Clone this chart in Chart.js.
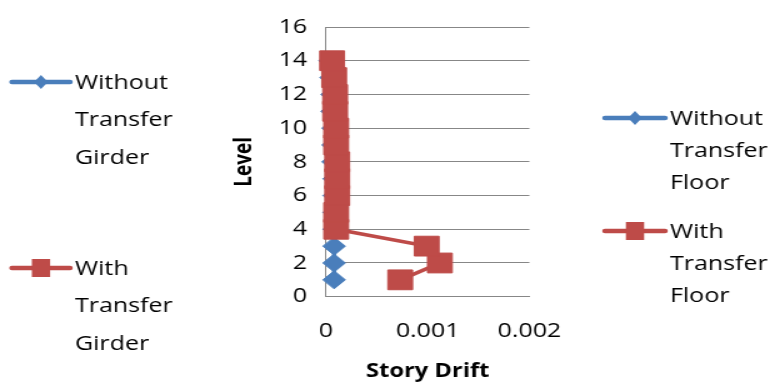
<!DOCTYPE html>
<html>
<head>
<meta charset="utf-8">
<script src="https://cdn.jsdelivr.net/npm/chart.js@4/dist/chart.umd.min.js"></script>
<style>
  html, body { margin: 0; padding: 0; background: #fff; overflow: hidden; }
  #chart { display: block; }
</style>
</head>
<body>
<canvas id="chart" width="616" height="383" style="width:770px;height:383px"></canvas>
<script>
// Story drift per level, for the building with and without the transfer element
const levels = [1, 2, 3, 4, 5, 6, 7, 8, 9, 10, 11, 12, 13, 14];
const driftWithout = [0.00008, 0.00008, 0.00008, 0.00008, 0.00008, 0.00008, 0.00008,
                      0.00007, 0.00007, 0.00007, 0.00006, 0.00006, 0.00005, 0.00004];
const driftWith = [0.00073, 0.00112, 0.00099, 0.00010, 0.00010, 0.00011, 0.00011,
                   0.00011, 0.00010, 0.00010, 0.00009, 0.00009, 0.00008, 0.00006];

const xTickLabels = ['0', '0.001', '0.002'];
const legendGirder = ['Without Transfer Girder', 'With Transfer Girder'];
const legendFloor = ['Without Transfer Floor', 'With Transfer Floor'];
const seriesColors = ['#4A7EBB', '#BE4B48'];

const FONT = "'Open Sans', 'Liberation Sans', sans-serif";
Chart.defaults.font.family = FONT;
Chart.defaults.font.size = 20;
Chart.defaults.color = '#000';

// Two side legends, each naming the same pair of series
const sideLegends = {
  id: 'sideLegends',
  afterDraw(chart, args, opts) {
    const ctx = chart.ctx;
    ctx.save();
    ctx.font = `20px ${FONT}`;
    ctx.textBaseline = 'middle';
    ctx.textAlign = 'left';
    opts.groups.forEach(g => {
      g.labels.forEach((label, i) => {
        const color = chart.data.datasets[i].borderColor;
        const y = g.ys[i];
        // line sample
        ctx.strokeStyle = color;
        ctx.lineWidth = 4.5;
        ctx.lineCap = 'round';
        ctx.beginPath();
        ctx.moveTo(g.lineX0, y);
        ctx.lineTo(g.lineX1, y);
        ctx.stroke();
        // marker sample
        const cx = (g.lineX0 + g.lineX1) / 2;
        ctx.fillStyle = color;
        ctx.beginPath();
        if (i === 0) {
          ctx.moveTo(cx - 5.5, y);
          ctx.lineTo(cx, y - 7);
          ctx.lineTo(cx + 5.5, y);
          ctx.lineTo(cx, y + 7);
          ctx.closePath();
        } else {
          ctx.rect(cx - 7.3, y - 9, 14.6, 18);
        }
        ctx.fill();
        // wrapped label, one word per line
        ctx.fillStyle = '#000';
        label.split(' ').forEach((word, k) => {
          ctx.fillText(word, g.textX, y + 1 + k * g.lineGap);
        });
      });
    });
    ctx.restore();
  }
};

new Chart(document.getElementById('chart'), {
  type: 'scatter',
  data: {
    datasets: [
      {
        label: legendGirder[0],
        data: levels.map((l, i) => ({ x: driftWithout[i], y: l })),
        showLine: true,
        borderColor: seriesColors[0],
        backgroundColor: seriesColors[0],
        borderWidth: 3.5,
        pointStyle: 'rectRot',
        pointRadius: 9,
        pointBorderWidth: 1,
        clip: false,
        order: 2
      },
      {
        label: legendGirder[1],
        data: levels.map((l, i) => ({ x: driftWith[i], y: l })),
        showLine: true,
        borderColor: seriesColors[1],
        backgroundColor: seriesColors[1],
        borderWidth: 3.5,
        pointStyle: 'rect',
        pointRadius: 14,
        pointBorderWidth: 1,
        clip: false,
        order: 1
      }
    ]
  },
  options: {
    responsive: false,
    maintainAspectRatio: false,
    animation: false,
    events: [],
    layout: { padding: { left: 0, right: 192.5, top: 24, bottom: 0 } },
    scales: {
      x: {
        type: 'linear',
        min: 0,
        max: 0.002,
        afterFit: s => { s.height = 383 - 296.7; },
        afterBuildTicks: s => { s.ticks = xTickLabels.map((_, i) => ({ value: i * 0.001 })); },
        ticks: { padding: 15, callback: (v, i) => xTickLabels[i] },
        grid: { display: false },
        border: { display: true, color: '#878787', width: 1 },
        title: {
          display: true,
          text: 'Story Drift',
          font: { size: 19, weight: 'bold' },
          padding: { top: 0, bottom: 0 }
        }
      },
      y: {
        type: 'linear',
        min: 0,
        max: 16,
        afterFit: s => { s.width = 260.8; },
        ticks: { stepSize: 2, padding: 15 },
        grid: { color: '#878787', lineWidth: 1, drawTicks: false },
        border: { display: true, color: '#878787', width: 1 },
        title: {
          display: true,
          text: 'Level',
          font: { size: 19, weight: 'bold' },
          padding: { top: 184, bottom: 0 }
        }
      }
    },
    plugins: {
      legend: { display: false },
      tooltip: { enabled: false },
      sideLegends: {
        groups: [
          { labels: legendGirder, lineX0: 9.6, lineX1: 56, textX: 60, ys: [82, 268], lineGap: 37.5 },
          { labels: legendFloor, lineX0: 484, lineX1: 532, textX: 536, ys: [118, 231], lineGap: 32 }
        ]
      }
    }
  },
  plugins: [sideLegends]
});
</script>
</body>
</html>
